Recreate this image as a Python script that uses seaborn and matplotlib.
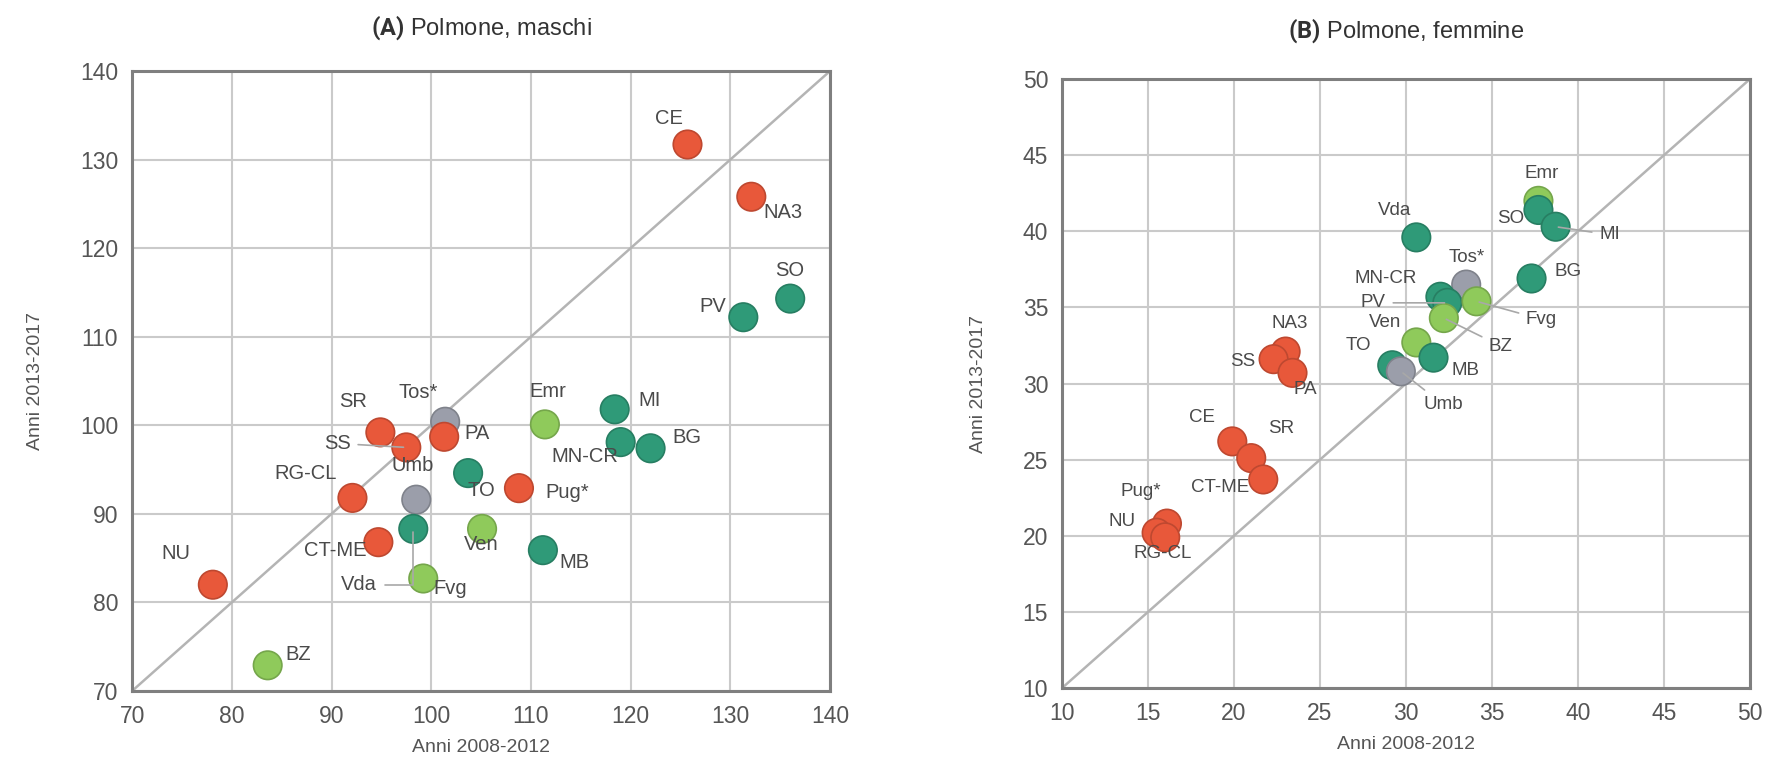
import matplotlib
matplotlib.use("Agg")
import matplotlib.pyplot as plt
import numpy as np
import pandas as pd
import seaborn as sns

# Panel A: Polmone, maschi
names_a = ["CE", "NA3", "SO", "PV", "SR", "Tos*", "PA", "SS", "Umb", "RG-CL", "TO", "Pug*",
           "Emr", "MI", "MN-CR", "BG", "CT-ME", "Vda", "Ven", "MB", "Fvg", "NU", "BZ"]
x_a = [125.7, 132.1, 136.0, 131.3, 94.9, 101.4, 101.3, 97.5, 98.5, 92.1, 103.7, 108.8,
       111.4, 118.4, 119.0, 122.0, 94.7, 98.2, 105.1, 111.2, 99.2, 78.1, 83.6]
y_a = [131.7, 125.8, 114.3, 112.2, 99.2, 100.4, 98.7, 97.5, 91.6, 91.8, 94.6, 92.9,
       100.1, 101.8, 98.1, 97.4, 86.8, 88.3, 88.3, 85.9, 82.7, 82.0, 72.9]
group_a = ["r", "r", "d", "d", "r", "g", "r", "r", "g", "r", "d", "r",
           "l", "d", "d", "d", "r", "d", "l", "d", "l", "r", "l"]

# Panel B: Polmone, femmine
names_b = ["Emr", "SO", "MI", "Vda", "BG", "Tos*", "MN-CR", "PV", "Fvg", "BZ", "Ven", "MB",
           "TO", "Umb", "NA3", "SS", "PA", "CE", "SR", "CT-ME", "Pug*", "NU", "RG-CL"]
x_b = [37.7, 37.7, 38.7, 30.6, 37.3, 33.5, 32.0, 32.4, 34.1, 32.2, 30.6, 31.6,
       29.2, 29.7, 23.0, 22.3, 23.4, 19.9, 21.0, 21.7, 16.1, 15.5, 16.0]
y_b = [42.0, 41.4, 40.3, 39.6, 36.9, 36.5, 35.7, 35.3, 35.4, 34.3, 32.7, 31.7,
       31.2, 30.8, 32.1, 31.6, 30.7, 26.2, 25.1, 23.7, 20.8, 20.2, 19.9]
group_b = ["l", "d", "d", "d", "d", "g", "d", "d", "l", "l", "l", "d",
           "d", "g", "r", "r", "r", "r", "r", "r", "r", "r", "r"]

palette = {"r": "#e8583a", "d": "#2f9a78", "l": "#8fca5b", "g": "#9b9eaa"}

# label offsets in pixels (dx, dy), optional leader connection style
labels_a = {"CE": (-19, 26), "NA3": (32, -16), "SO": (0, 28), "PV": (-31, 11), "SR": (-27, 31),
            "Tos*": (-27, 29), "PA": (33, 3), "SS": (-69, 4, "arc3"), "Umb": (-4, 34),
            "RG-CL": (-47, 24), "TO": (13, -17), "Pug*": (48, -4), "Emr": (3, 33), "MI": (35, 9),
            "MN-CR": (-36, -14), "BG": (36, 11), "CT-ME": (-43, -8),
            "Vda": (-54, -56, "angle,angleA=0,angleB=90,rad=0"),
            "Ven": (-1, -16), "MB": (32, -12), "Fvg": (27, -10), "NU": (-37, 31), "BZ": (31, 11)}
labels_b = {"Emr": (3, 27), "SO": (-28, -9), "MI": (54, -8, "arc3"), "Vda": (-22, 27),
            "BG": (37, 7), "Tos*": (1, 27), "MN-CR": (-55, 18), "PV": (-74, 0, "arc3"),
            "Fvg": (65, -18, "arc3"), "BZ": (57, -28, "arc3"), "Ven": (-31, 20), "MB": (32, -13),
            "TO": (-34, 20), "Umb": (42, -33, "arc3"), "NA3": (4, 28), "SS": (-31, -2),
            "PA": (13, -17), "CE": (-30, 24), "SR": (30, 30), "CT-ME": (-43, -8),
            "Pug*": (-26, 32), "NU": (-35, 11), "RG-CL": (-3, -16)}

sns.set_style("white")
plt.rcParams["font.family"] = ["Liberation Sans", "DejaVu Sans"]
plt.rcParams["mathtext.fontset"] = "custom"
plt.rcParams["mathtext.bf"] = "Roboto:bold"
plt.rcParams["mathtext.rm"] = "Roboto"

fig = plt.figure(figsize=(17.68, 7.6), dpi=100)
ax1 = fig.add_axes([0.0747, 0.0908, 0.3948, 0.8158])
ax2 = fig.add_axes([0.6007, 0.0947, 0.3891, 0.8013])


def panel(ax, names, xs, ys, groups, labels, lim, step, title, title_y, lab_size):
    df = pd.DataFrame({"x": xs, "y": ys, "g": groups, "n": names})
    ax.plot(lim, lim, color="#b4b4b4", lw=1.8, zorder=1)
    sns.scatterplot(data=df, x="x", y="y", hue="g", palette=palette, s=420,
                    linewidth=1.2, legend=False, ax=ax, zorder=3)
    coll = ax.collections[-1]
    fc = coll.get_facecolors()
    ec = fc.copy()
    ec[:, :3] = ec[:, :3] * 0.82
    coll.set_edgecolors(ec)
    for n, x, y in zip(names, xs, ys):
        o = labels[n]
        kw = {}
        if len(o) > 2:
            kw["arrowprops"] = dict(arrowstyle="-", color="#a8a8a8", lw=1.2,
                                    shrinkA=3, shrinkB=2, connectionstyle=o[2])
        ax.annotate(n, xy=(x, y), xytext=(o[0], o[1]), textcoords="offset pixels",
                    ha="center", va="center", fontsize=lab_size, color="#4a4a4a",
                    zorder=4, **kw)
    ticks = np.arange(lim[0], lim[1] + step, step)
    ax.set_xlim(lim)
    ax.set_ylim(lim)
    ax.set_xticks(ticks)
    ax.set_yticks(ticks)
    ax.grid(True, color="#cacaca", lw=1.5, zorder=0)
    ax.set_axisbelow(True)
    for s in ax.spines.values():
        s.set_color("#7f7f7f")
        s.set_linewidth(2.2)
    ax.tick_params(axis="both", labelsize=16.5, labelcolor="#555555", length=0, pad=10)
    ax.set_xlabel("Anni 2008-2012", fontsize=14, color="#555555", labelpad=8)
    ax.set_ylabel("Anni 2013-2017", fontsize=14, color="#555555", labelpad=26)
    ax.set_title(title, fontsize=17, color="#333333", y=title_y)


panel(ax1, names_a, x_a, y_a, group_a, labels_a, (70, 140), 10,
      r"$\mathbf{(A)}$ Polmone, maschi", 1.045, 14.5)
panel(ax2, names_b, x_b, y_b, group_b, labels_b, (10, 50), 5,
      r"$\mathbf{(B)}$ Polmone, femmine", 1.055, 13.5)

fig.savefig("out.png", dpi=100)
